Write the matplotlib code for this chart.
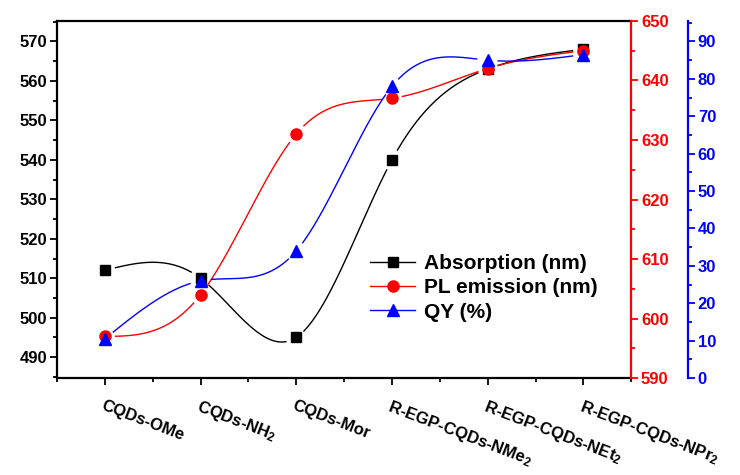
import numpy as np
import matplotlib
matplotlib.use("Agg")
import matplotlib.pyplot as plt
from matplotlib.ticker import MultipleLocator, FixedLocator
from matplotlib.lines import Line2D

plt.rcParams['font.family'] = ['Liberation Sans', 'DejaVu Sans']
plt.rcParams['font.weight'] = 'bold'
plt.rcParams['mathtext.fontset'] = 'custom'
plt.rcParams['mathtext.rm'] = 'Liberation Sans:bold'
plt.rcParams['mathtext.it'] = 'Liberation Sans:bold'
plt.rcParams['mathtext.bf'] = 'Liberation Sans:bold'

samples = ['CQDs-OMe', 'CQDs-NH$_2$', 'CQDs-Mor', 'R-EGP-CQDs-NMe$_2$',
           'R-EGP-CQDs-NEt$_2$', 'R-EGP-CQDs-NPr$_2$']
absorption = [512, 510, 495, 540, 563, 568]
pl_emission = [597, 604, 631, 637, 642, 645]
qy = [10.5, 26, 34, 78, 85, 86.5]


def natural_spline(x, y, n=400):
    # natural cubic spline through the points
    x = np.asarray(x, float)
    y = np.asarray(y, float)
    k = len(x)
    h = np.diff(x)
    A = np.zeros((k, k))
    b = np.zeros(k)
    A[0, 0] = A[-1, -1] = 1
    for i in range(1, k - 1):
        A[i, i - 1] = h[i - 1]
        A[i, i] = 2 * (h[i - 1] + h[i])
        A[i, i + 1] = h[i]
        b[i] = 6 * ((y[i + 1] - y[i]) / h[i] - (y[i] - y[i - 1]) / h[i - 1])
    M = np.linalg.solve(A, b)
    xs = np.linspace(x[0], x[-1], n)
    idx = np.clip(np.searchsorted(x, xs) - 1, 0, k - 2)
    t0 = x[idx + 1] - xs
    t1 = xs - x[idx]
    hi = h[idx]
    ys = (M[idx] * t0 ** 3 + M[idx + 1] * t1 ** 3) / (6 * hi) \
        + (y[idx] / hi - M[idx] * hi / 6) * t0 \
        + (y[idx + 1] / hi - M[idx + 1] * hi / 6) * t1
    return xs, ys


def gapped_curve(ax, x, y, color, marker, ms, gap=10):
    xs, ys = natural_spline(x, y)
    trans = ax.transData
    pts = trans.transform(np.column_stack([xs, ys]))
    mk = trans.transform(np.column_stack([x, y]))
    d = np.min(np.hypot(pts[:, None, 0] - mk[None, :, 0],
                        pts[:, None, 1] - mk[None, :, 1]), axis=1)
    ys = np.where(d < gap, np.nan, ys)
    ax.plot(xs, ys, color=color, lw=1.0)
    ax.plot(x, y, ls='none', marker=marker, ms=ms, color=color,
            markeredgecolor=color)


fig = plt.figure(figsize=(7.4, 4.75), dpi=100)
ax = fig.add_axes([0.077, 0.204, 0.776, 0.752])
ax2 = ax.twinx()
ax3 = ax.twinx()

xpos = np.arange(len(samples))
for a in (ax, ax2, ax3):
    a.set_xlim(-0.5, 5.5)
ax.set_ylim(484.7, 575.2)
ax2.set_ylim(590, 650)
ax3.set_ylim(0, 95.5)

ax3.spines['right'].set_position(('axes', 1.099))
for a in (ax2, ax3):
    a.spines['left'].set_visible(False)
    a.spines['top'].set_visible(False)
    a.spines['bottom'].set_visible(False)
ax.spines['right'].set_visible(False)
for s in ('left', 'bottom', 'top'):
    ax.spines[s].set_linewidth(1.6)
ax2.spines['right'].set_color('red')
ax2.spines['right'].set_linewidth(1.6)
ax3.spines['right'].set_color('blue')
ax3.spines['right'].set_linewidth(1.6)

gapped_curve(ax, xpos, absorption, 'black', 's', 7)
gapped_curve(ax2, xpos, pl_emission, 'red', 'o', 8)
gapped_curve(ax3, xpos, qy, 'blue', '^', 8.5)

ax.xaxis.set_major_locator(FixedLocator(xpos))
ax.xaxis.set_minor_locator(MultipleLocator(0.5))
ax.set_xticklabels(samples, rotation=-21, ha='left', va='top',
                   rotation_mode='anchor', fontsize=12, fontweight='bold')
ax.tick_params(axis='x', which='major', length=5, width=1.3, pad=9)
ax.tick_params(axis='x', which='minor', length=3, width=1.3)

ax.yaxis.set_major_locator(MultipleLocator(10))
ax.yaxis.set_minor_locator(MultipleLocator(5))
ax.set_ylim(484.7, 575.2)
ax.tick_params(axis='y', which='major', length=5, width=1.3, labelsize=12, pad=2)
ax.tick_params(axis='y', which='minor', length=3, width=1.3)

ax2.yaxis.set_major_locator(MultipleLocator(10))
ax2.yaxis.set_minor_locator(MultipleLocator(5))
ax2.tick_params(axis='y', which='both', colors='red', labelsize=12, width=1.3, pad=2)
ax2.tick_params(axis='y', which='major', length=5)
ax2.tick_params(axis='y', which='minor', length=3)

ax3.yaxis.set_major_locator(MultipleLocator(10))
ax3.yaxis.set_minor_locator(MultipleLocator(5))
ax3.tick_params(axis='y', which='both', colors='blue', labelsize=12, width=1.3, pad=2)
ax3.tick_params(axis='y', which='major', length=5)
ax3.tick_params(axis='y', which='minor', length=3)

for a in (ax, ax2, ax3):
    for lab in a.get_yticklabels():
        lab.set_fontweight('bold')

handles = [
    Line2D([], [], color='black', lw=1.0, marker='s', ms=7),
    Line2D([], [], color='red', lw=1.0, marker='o', ms=8),
    Line2D([], [], color='blue', lw=1.0, marker='^', ms=8.5),
]
labels = ['Absorption (nm)', 'PL emission (nm)', 'QY (%)']
ax3.legend(handles, labels, loc='upper left', bbox_to_anchor=(0.53, 0.37),
           frameon=False, handlelength=2.2, handletextpad=0.4,
           labelspacing=0.25, borderaxespad=0,
           prop={'weight': 'bold', 'size': 15})

fig.savefig('out.png', dpi=100)
